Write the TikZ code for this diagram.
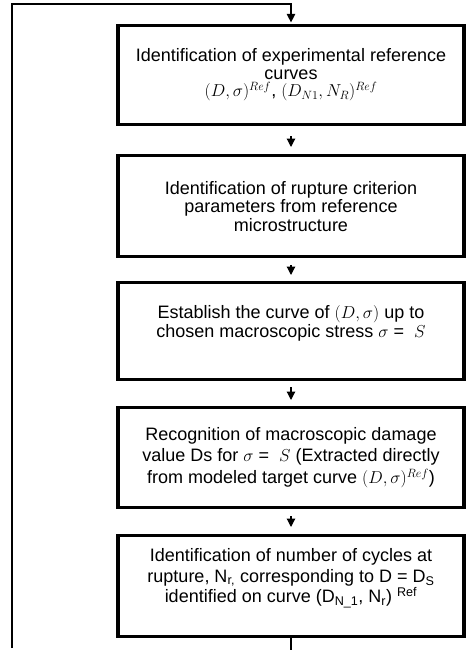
\documentclass[tikz,border=0pt]{standalone}
\usepackage{fontspec}
\setmainfont{Liberation Sans}
\usetikzlibrary{arrows.meta}
\begin{document}
\begin{tikzpicture}[x=1pt,y=1pt,
  stepbox/.style={draw, line width=3.2pt, minimum width=346pt, inner sep=0pt,
    align=center, anchor=north, font=\fontsize{18}{19}\selectfont},
  arr/.style={line width=1.2pt, -{Triangle[length=8.5pt,width=8.5pt]}},
  ln/.style={line width=1.2pt}]
\useasboundingbox (0,0) rectangle (468,-650);
\node[stepbox, minimum height=99pt, font=\fontsize{18}{17.5}\selectfont] (b1) at (291,-24)
  {Identification of experimental reference\\ curves\\ $(D,\sigma)^{Ref}$, $(D_{N1},N_R)^{Ref}$};
\node[stepbox, minimum height=101pt, font=\fontsize{18}{18.5}\selectfont] (b2) at (291,-154)
  {Identification of rupture criterion\\ parameters from reference\\ microstructure};
\node[stepbox, minimum height=97pt] (b3) at (291,-281)
  {Establish the curve of $(D,\sigma)$ up to\\ chosen macroscopic stress $\sigma$ =\ \ $S$\\ \mbox{}};
\node[stepbox, minimum height=100pt, font=\fontsize{18}{21.5}\selectfont] (b4) at (291,-406)
  {Recognition of macroscopic damage\\ value Ds for $\sigma$ =\ \ $S$ (Extracted directly\\ from modeled target curve $(D,\sigma)^{Ref}$)};
\node[stepbox, minimum height=101pt, font=\fontsize{18}{20.5}\selectfont] (b5) at (291,-534)
  {Identification of number of cycles at\\ rupture, N\textsubscript{r,} corresponding to D = D\textsubscript{S}\\ identified on curve (D\textsubscript{N\_1}, N\textsubscript{r}) \textsuperscript{Ref}\\ \mbox{}};
\coordinate (tl) at (12,-4);
\coordinate (bl) at (12,-648);
\coordinate (tc) at (b1.north |- tl);
\coordinate (be) at (b5.south |- 0,-650);
\draw[arr] (bl) -- (tl) -- (tc) -- ([yshift=1.6pt]b1.north);
\draw[arr] ([yshift=-10pt]b1.south) -- ([yshift=7pt]b2.north);
\draw[arr] ([yshift=-7pt]b2.south) -- ([yshift=6pt]b3.north);
\draw[arr] ([yshift=-6pt]b3.south) -- ([yshift=6pt]b4.north);
\draw[arr] ([yshift=-7pt]b4.south) -- ([yshift=7pt]b5.north);
\draw[ln] (b5.south) -- (be);
\end{tikzpicture}
\end{document}
